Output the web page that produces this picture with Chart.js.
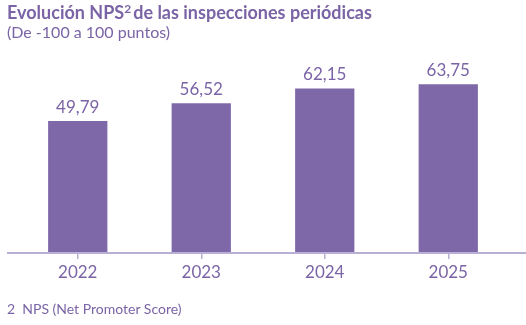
<!DOCTYPE html>
<html><head><meta charset="utf-8">
<script src="https://cdn.jsdelivr.net/npm/chart.js@4"></script>
<style>
html,body{margin:0;padding:0;background:#fff;}
#wrap{position:relative;width:526px;height:325px;overflow:hidden;font-family:Lato,"Open Sans",sans-serif;color:#7a64a6;}
#title{position:absolute;left:7px;top:1px;font-size:18px;font-weight:bold;white-space:nowrap;}
#title sup{font-size:12px;vertical-align:top;position:relative;top:0px;margin-right:2px;}
#sub{position:absolute;left:7px;top:22px;font-size:16px;white-space:nowrap;}
#foot{position:absolute;left:7px;top:300px;font-size:14px;white-space:nowrap;}
canvas{position:absolute;left:0;top:0;}
</style></head>
<body><div id="wrap">
<canvas id="c" width="526" height="325"></canvas>
<div id="title">Evolución NPS<sup>2</sup>de las inspecciones periódicas</div>
<div id="sub">(De -100 a 100 puntos)</div>
<div id="foot">2&nbsp;&nbsp;NPS (Net Promoter Score)</div>
</div>
<script>
const categories = ["2022", "2023", "2024", "2025"];
const npsValues = [49.79, 56.52, 62.15, 63.75];
const valueLabels = ["49,79", "56,52", "62,15", "63,75"];

const textColor = "#7a64a6";
const barColor = "#7f68a8";
const axisColor = "#b9aed3";

const valuePlugin = {
  id: "values",
  afterDatasetsDraw(chart) {
    const ctx = chart.ctx;
    const meta = chart.getDatasetMeta(0);
    ctx.save();
    ctx.fillStyle = textColor;
    ctx.font = "17px Lato";
    ctx.textAlign = "center";
    ctx.textBaseline = "alphabetic";
    meta.data.forEach((bar, i) => {
      ctx.fillText(valueLabels[i], bar.x, bar.y - 8);
    });
    ctx.restore();
  },
  beforeDatasetsDraw(chart) {
    const ctx = chart.ctx;
    const y = chart.scales.y.getPixelForValue(0);
    ctx.save();
    ctx.strokeStyle = axisColor;
    ctx.lineWidth = 2;
    ctx.beginPath();
    ctx.moveTo(7, y + 1);
    ctx.lineTo(526, y + 1);
    ctx.stroke();
    ctx.restore();
  }
};

new Chart(document.getElementById("c"), {
  type: "bar",
  data: {
    labels: categories,
    datasets: [{
      data: npsValues,
      backgroundColor: barColor,
      borderWidth: 0,
      categoryPercentage: 1,
      barPercentage: 0.48
    }]
  },
  options: {
    responsive: false,
    animation: false,
    layout: { padding: { top: 52, left: 16, right: 16, bottom: 0 } },
    plugins: { legend: { display: false }, tooltip: { enabled: false } },
    scales: {
      y: { display: false, min: 0, max: 76 },
      x: {
        afterFit(scale) { scale.height = 73; },
        border: { display: false },
        grid: { offset: false, drawOnChartArea: false, drawTicks: true, tickLength: 7, color: axisColor, lineWidth: 1.5 },
        ticks: { color: textColor, font: { family: "Lato", size: 17 }, padding: 3 }
      }
    }
  },
  plugins: [valuePlugin]
});
</script>
</body></html>
